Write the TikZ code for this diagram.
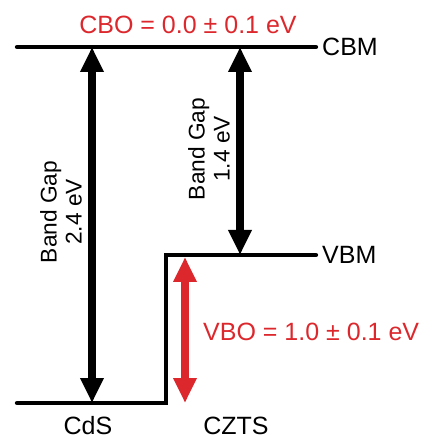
\documentclass[tikz,border=0pt]{standalone}
\usepackage{fontspec}
\setmainfont{Liberation Sans}
\usetikzlibrary{arrows.meta,positioning}
\definecolor{offred}{RGB}{220,40,45}
\tikzset{
  level/.style={line width=4.3pt, line cap=round, line join=miter},
  gaparrow/.style={{Triangle[length=25pt,width=22pt]}-{Triangle[length=25pt,width=22pt]},
                   line width=8pt},
  offarrow/.style={gaparrow, draw=offred},
  bandlabel/.style={font=\fontsize{25}{30}\selectfont, inner sep=0pt},
  offlabel/.style={bandlabel, text=offred},
  gaplabel/.style={font=\fontsize{22.7}{25}\selectfont, rotate=90, align=center, inner sep=0pt},
}
\begin{document}
\begin{tikzpicture}[x=1pt, y=1pt]
\useasboundingbox (0,0) rectangle (441,439);

% ---------------- band edges ----------------
\coordinate (cbmL) at (17,392);
\coordinate (cbmR) at (316,392);
\coordinate (cdsL) at (17,36);
\coordinate (step) at (166,36);
\coordinate (stepTop) at (166,184);
\coordinate (vbmR) at (316,184);
\draw[level] (cbmL) -- (cbmR);
\draw[level] (cdsL) -- (step) -- (stepTop) -- (vbmR);

\node[bandlabel, anchor=west] (cbm) at (322,392) {CBM};
\node[bandlabel, anchor=west] (vbm) at (322,184) {VBM};
\node[bandlabel] (cds) at (88,13.5) {CdS};
\node[bandlabel] (czts) at (236,13.5) {CZTS};

% ---------------- gaps ----------------
\coordinate (gapAtop) at (92,392);
\coordinate (gapAbot) at (92,36);
\coordinate (gapBtop) at (240,392);
\coordinate (gapBbot) at (240,184);
\draw[gaparrow] (gapAtop) -- (gapAbot);
\draw[gaparrow] (gapBtop) -- (gapBbot);
\node[gaplabel] (gapA) at (61,227) {Band Gap\\2.4 eV};
\node[gaplabel] (gapB) at (209,290) {Band Gap\\1.4 eV};

% ---------------- offsets ----------------
\coordinate (vboTop) at (185,182);
\coordinate (vboBot) at (185,36);
\draw[offarrow] (vboTop) -- (vboBot);
\node[offlabel] (cbo) at (188,414) {CBO = 0.0 ± 0.1 eV};
\node[offlabel, anchor=west] (vbo) at (203,107) {VBO = 1.0 ± 0.1 eV};
\end{tikzpicture}
\end{document}
